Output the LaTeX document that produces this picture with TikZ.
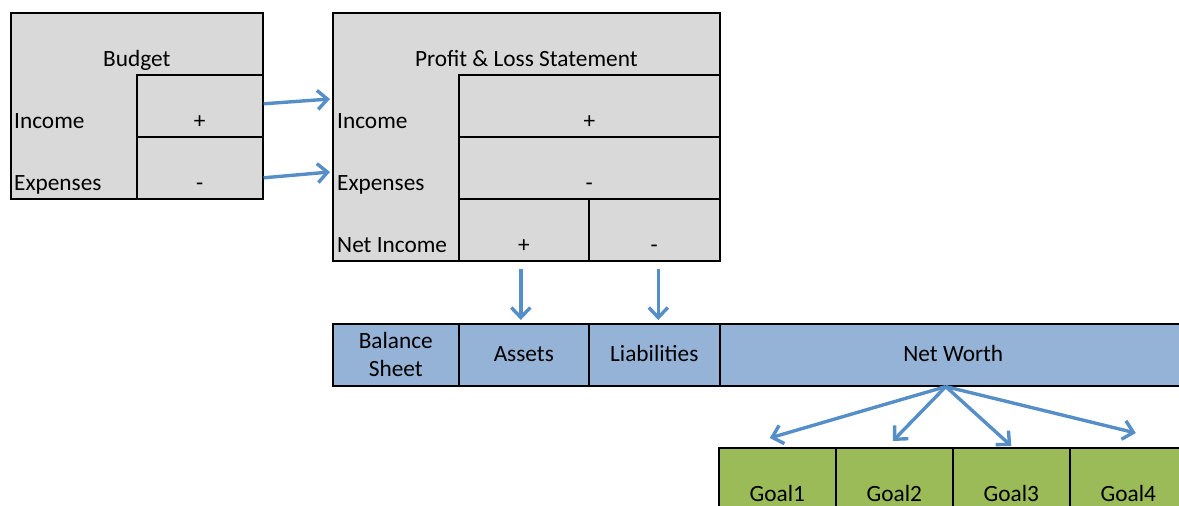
\documentclass[tikz,border=0pt]{standalone}
\usepackage{fontspec}
\setmainfont{Carlito}
\usetikzlibrary{arrows.meta}
\definecolor{cellgray}{RGB}{217,217,217}
\definecolor{sheetblue}{RGB}{149,179,215}
\definecolor{goalgreen}{RGB}{155,187,89}
\definecolor{arrowblue}{RGB}{86,143,200}
\begin{document}
\begin{tikzpicture}[x=1pt, y=-1pt,
    font=\fontsize{23.3}{28}\selectfont,
    cell/.style={draw, line width=1.6pt, fill=cellgray, inner sep=0pt, anchor=north west, text height=54pt, text depth=8pt},
    sheet/.style={cell, fill=sheetblue, text height=38pt, text depth=24pt},
    sheethead/.style={draw, line width=1.6pt, fill=sheetblue, inner sep=0pt, anchor=north west, minimum height=62pt, align=center},
    goal/.style={cell, fill=goalgreen},
    rowlabel/.style={anchor=base west, inner sep=0pt},
    arrow/.style={-{Straight Barb[length=10pt,width=19pt]}, line width=3.4pt, arrowblue}
]
    \useasboundingbox (0,0) rectangle (1179,506);

    % budget
    \node[cell, minimum width=252pt, text depth=132pt] (budget) at (10,12) {Budget};
    \node[cell, minimum width=126pt] (bin) at (136,74) {+};
    \node[cell, minimum width=126pt] (bex) at (136,136) {-};
    \node[rowlabel] (binlabel) at (14,128) {Income};
    \node[rowlabel] (bexlabel) at (14,190) {Expenses};

    % profit and loss
    \node[cell, minimum width=387pt, text depth=194pt] (pl) at (332,12) {Profit \& Loss Statement};
    \node[cell, minimum width=261pt] (plin) at (458,74) {+};
    \node[cell, minimum width=261pt] (plex) at (458,136) {-};
    \node[cell, minimum width=130pt] (nip) at (458,198) {+};
    \node[cell, minimum width=131pt] (nim) at (588,198) {-};
    \node[rowlabel] (plinlabel) at (337,128) {Income};
    \node[rowlabel] (plexlabel) at (337,190) {Expenses};
    \node[rowlabel] (nilabel) at (337,252) {Net Income};

    % balance sheet
    \node[sheethead, minimum width=126pt] (balance) at (332,323) {Balance\\Sheet};
    \node[sheet, minimum width=130pt] (assets) at (458,323) {Assets};
    \node[sheet, minimum width=131pt] (liab) at (588,323) {Liabilities};
    \node[sheet, minimum width=467pt] (networth) at (719,323) {Net Worth};

    % goals
    \node[goal, minimum width=117pt] (goal1) at (718,447) {Goal1};
    \node[goal, minimum width=117pt] (goal2) at (835,447) {Goal2};
    \node[goal, minimum width=117pt] (goal3) at (952,447) {Goal3};
    \node[goal, minimum width=117pt] (goal4) at (1069,447) {Goal4};

    \draw[arrow] ([yshift=2pt]bin.east) -- ([xshift=-2pt,yshift=-87pt]pl.north west);
    \draw[arrow] ([yshift=-10pt]bex.east) -- ([xshift=-2pt,yshift=-160pt]pl.north west);
    \draw[arrow] ([xshift=-3pt,yshift=-7pt]nip.south) -- ([xshift=-3pt,yshift=3pt]assets.north);
    \draw[arrow] ([xshift=4pt,yshift=-7pt]nim.south) -- ([xshift=4pt,yshift=3pt]liab.north);

    \draw[arrow] ([xshift=-7.5pt]networth.south) -- ([xshift=-7.5pt,yshift=9pt]goal1.north);
    \draw[arrow] ([xshift=-7.5pt]networth.south) -- ([xshift=-1.5pt,yshift=6pt]goal2.north);
    \draw[arrow] ([xshift=-7.5pt]networth.south) -- ([yshift=1pt]goal3.north);
    \draw[arrow] ([xshift=-7.5pt]networth.south) -- ([xshift=7.5pt,yshift=14pt]goal4.north);
\end{tikzpicture}
\end{document}
